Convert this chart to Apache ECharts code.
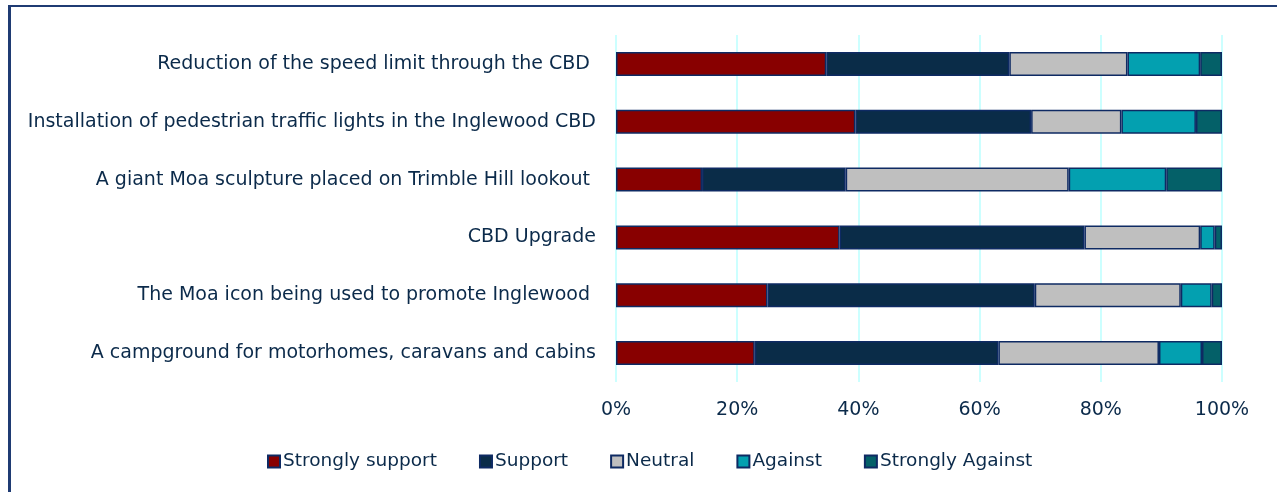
<!DOCTYPE html>
<html>
<head>
<meta charset="utf-8">
<script src="https://cdn.jsdelivr.net/npm/echarts@6/dist/echarts.min.js"></script>
<style>
html,body{margin:0;padding:0;background:#fff;}
#frame{position:absolute;left:8px;top:5px;width:1300px;height:520px;border-left:3px solid #1F3B73;border-top:2px solid #1F3B73;box-sizing:border-box;}
#chart{position:absolute;left:0;top:0;width:1277px;height:492px;}
</style>
</head>
<body>
<div id="frame"></div>
<div id="chart"></div>
<script>
const categories = [
  "Reduction of the speed limit through the CBD ",
  "Installation of pedestrian traffic lights in the Inglewood CBD",
  "A giant Moa sculpture placed on Trimble Hill lookout ",
  "CBD Upgrade",
  "The Moa icon being used to promote Inglewood ",
  "A campground for motorhomes, caravans and cabins"
];
const seriesNames = ["Strongly support", "Support", "Neutral", "Against", "Strongly Against"];
const stronglySupport = [34.7, 39.5, 14.2, 36.9, 25.0, 22.9];
const support         = [30.2, 29.0, 23.7, 40.4, 44.1, 40.2];
const neutral         = [19.5, 14.9, 36.8, 19.1, 24.1, 26.5];
const against         = [12.0, 12.3, 16.1, 2.4, 5.1, 7.1];
const stronglyAgainst = [3.6, 4.3, 9.2, 1.2, 1.7, 3.3];
const xTickValues = [0, 20, 40, 60, 80, 100];

const colors = ["#880000", "#0A2C48", "#BFBFBF", "#03A0B0", "#046068"];
const values = [stronglySupport, support, neutral, against, stronglyAgainst];
const textColor = "#0B2A4A";
const font = "'DejaVu Sans', sans-serif";

const chart = echarts.init(document.getElementById('chart'), null, {renderer: 'canvas'});
chart.setOption({
  animation: false,
  grid: {left: 616, right: 55, top: 35, bottom: 110, containLabel: false},
  xAxis: {
    type: 'value', min: 0, max: 100, interval: 20,
    axisLine: {show: false}, axisTick: {show: false},
    splitLine: {show: true, lineStyle: {color: '#CCFFFF', width: 2}},
    axisLabel: {color: textColor, fontSize: 19, fontFamily: font, margin: 19,
      formatter: v => xTickValues.includes(v) ? v + '%' : ''}
  },
  yAxis: {
    type: 'category', data: categories, inverse: true,
    axisLine: {show: false}, axisTick: {show: false},
    axisLabel: {color: textColor, fontSize: 19, fontFamily: font, margin: 20}
  },
  legend: {
    bottom: 16, left: 262,
    itemWidth: 12, itemHeight: 12, itemGap: 42,
    icon: 'rect',
    textStyle: {color: textColor, fontSize: 18.5, fontFamily: font, padding: [0,0,0,-2]},
    data: seriesNames
  },
  series: seriesNames.map((n, i) => ({
    name: n, type: 'bar', stack: 'total', data: values[i],
    barWidth: 24,
    itemStyle: {color: colors[i], borderColor: '#0E2A63', borderWidth: 1.5}
  }))
});
</script>
</body>
</html>
